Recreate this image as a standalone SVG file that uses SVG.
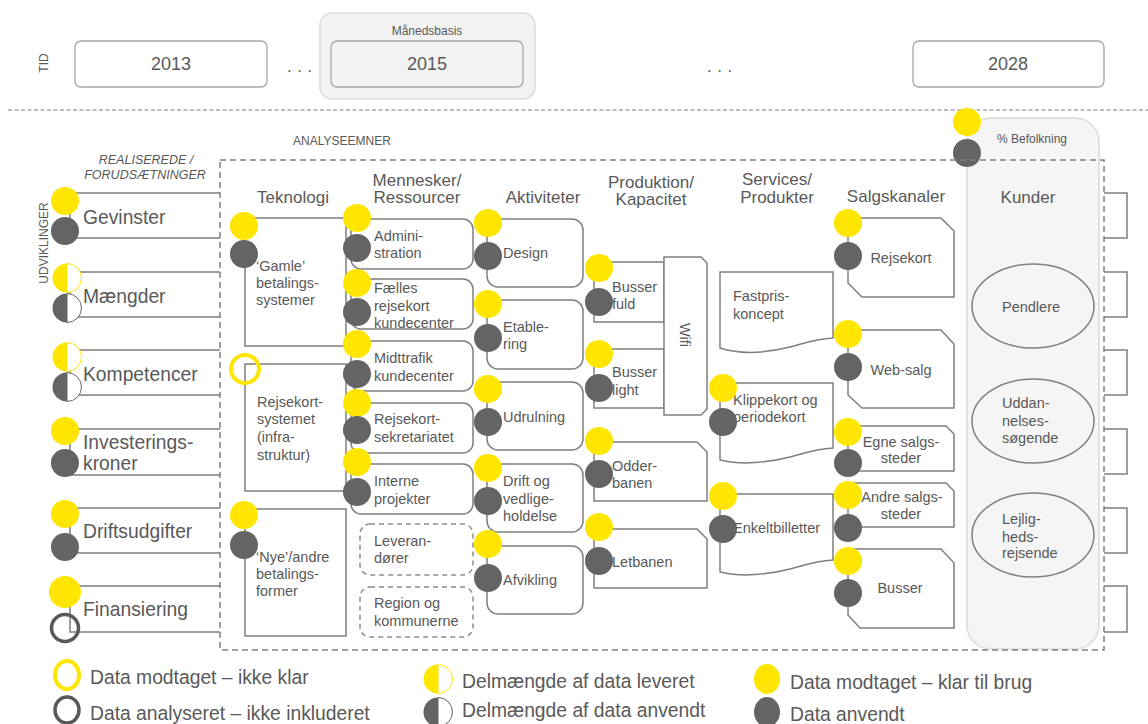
<svg xmlns="http://www.w3.org/2000/svg" width="1148" height="724" viewBox="0 0 1148 724">
<style>
text { font-family: "Liberation Sans", Arial, sans-serif; fill: #595959; }
.ln { fill: none; stroke: #7f7f7f; stroke-width: 1.5; }
.bx { fill: #fff; stroke: #7f7f7f; stroke-width: 1.5; }
.db { fill: #fff; stroke: #8c8c8c; stroke-width: 1.5; stroke-dasharray: 5 4; }
.yrbox { fill: #fff; stroke: #a6a6a6; stroke-width: 1.3; }
.y { fill: #FFE600; }
.d { fill: #646464; }
.yr { fill: none; stroke: #FFE600; stroke-width: 4; }
.dr { fill: none; stroke: #595959; stroke-width: 3.5; }
.f12 { font-size: 12px; }
.f14 { font-size: 14.5px; }
.f17 { font-size: 17px; }
.f18 { font-size: 18px; }
.f19 { font-size: 19.3px; }
.lg { font-size: 19.3px; }
.c { text-anchor: middle; }
</style>
<defs>
  <g id="hy"><path d="M0,-14.5 A14.5,14.5 0 0 0 0,14.5 Z" fill="#FFE600"/><path d="M0,-14.5 A14.5,14.5 0 0 1 0,14.5 Z" fill="#fff" stroke="#FFE600" stroke-width="1"/></g>
  <g id="hd"><path d="M0,-14.5 A14.5,14.5 0 0 0 0,14.5 Z" fill="#646464"/><path d="M0,-14.5 A14.5,14.5 0 0 1 0,14.5 Z" fill="#fff" stroke="#646464" stroke-width="1"/></g>
</defs>

<!-- time row -->
<g id="tid"><text class="f12 c" transform="translate(48,63) rotate(-90)">TID</text></g>
<g id="y2013"><rect class="yrbox" x="75" y="41" width="192" height="46" rx="6"/><text class="f18 c" x="171" y="70">2013</text></g>
<g id="dots1"><text class="f17" x="287" y="72" letter-spacing="5.5">...</text></g>
<g id="maanedsbasis"><rect x="320" y="13" width="215" height="86" rx="12" fill="#f2f2f2" stroke="#dcdcdc" stroke-width="1.5"/><text class="f12 c" x="427" y="35">Månedsbasis</text>
  <g id="y2015"><rect x="331" y="41" width="192" height="46" rx="6" fill="#f2f2f2" stroke="#a6a6a6" stroke-width="1.3"/><text class="f18 c" x="427" y="70">2015</text></g></g>
<g id="dots2"><text class="f17" x="707" y="72" letter-spacing="5.5">...</text></g>
<g id="y2028"><rect class="yrbox" x="913" y="41" width="191" height="46" rx="6"/><text class="f18 c" x="1008" y="70">2028</text></g>
<line x1="8" y1="110" x2="1148" y2="110" stroke="#7f7f7f" stroke-width="1.2" stroke-dasharray="4 2.5"/>

<!-- Kunder panel -->
<g id="kunder"><rect x="967" y="118" width="132" height="531" rx="24" fill="#f5f5f5" stroke="#e2e2e2" stroke-width="2"/>
  <text class="f12 c" x="1032" y="143">% Befolkning</text>
  <text class="f17 c" x="1028" y="203">Kunder</text>
  <circle class="y" cx="967" cy="122" r="14"/><circle class="d" cx="967" cy="153" r="14"/>
</g>

<!-- frame -->
<rect x="220" y="160" width="884" height="490" fill="none" stroke="#808080" stroke-width="1.5" stroke-dasharray="6 4"/>
<text class="f12" x="293" y="145">ANALYSEEMNER</text>
<text class="c" x="146" y="164" font-style="italic" font-size="12.5">REALISEREDE /</text>
<text class="c" x="145" y="179" font-style="italic" font-size="12.5">FORUDSÆTNINGER</text>
<text class="f12 c" transform="translate(47.5,243) rotate(-90)">UDVIKLINGER</text>

<!-- connectors (brackets) -->
<g id="connectors">
  <path class="ln" d="M220,193 H70 V238 H220"/>
  <path class="ln" d="M220,272 H70 V317 H220"/>
  <path class="ln" d="M220,350 H70 V395 H220"/>
  <path class="ln" d="M220,429 H70 V475 H220"/>
  <path class="ln" d="M220,508 H70 V553 H220"/>
  <path class="ln" d="M220,586 H70 V632 H220"/>
  <path class="ln" d="M1104,193 H1127 V238 H1104"/>
  <path class="ln" d="M1104,272 H1127 V317 H1104"/>
  <path class="ln" d="M1104,350 H1127 V395 H1104"/>
  <path class="ln" d="M1104,429 H1127 V474 H1104"/>
  <path class="ln" d="M1104,508 H1127 V553 H1104"/>
  <path class="ln" d="M1104,586 H1127 V632 H1104"/>
</g>

<!-- left nodes -->
<g id="gevinster"><text class="f19" x="83" y="224">Gevinster</text><circle class="y" cx="65" cy="201" r="14"/><circle class="d" cx="65" cy="231" r="14"/></g>
<g id="maengder"><text class="f19" x="83" y="303">Mængder</text><use href="#hy" x="67" y="278"/><use href="#hd" x="67" y="308"/></g>
<g id="kompetencer"><text class="f19" x="83" y="381">Kompetencer</text><use href="#hy" x="67" y="357"/><use href="#hd" x="67" y="387"/></g>
<g id="investeringskroner"><text class="f19" x="83" y="449">Investerings-</text><text class="f19" x="83" y="470">kroner</text><circle class="y" cx="65" cy="431" r="14"/><circle class="d" cx="65" cy="463" r="14"/></g>
<g id="driftsudgifter"><text class="f19" x="83" y="538">Driftsudgifter</text><circle class="y" cx="65" cy="514" r="14"/><circle class="d" cx="65" cy="547" r="14"/></g>
<g id="finansiering"><text class="f19" x="83" y="616">Finansiering</text><circle class="y" cx="65" cy="592" r="16"/><circle class="dr" cx="65" cy="628" r="13.5"/></g>

<!-- headings -->
<g id="headings">
  <text class="f17 c" x="293" y="203">Teknologi</text>
  <text class="f17 c" x="417" y="186">Mennesker/</text><text class="f17 c" x="417" y="203">Ressourcer</text>
  <text class="f17 c" x="543" y="203">Aktiviteter</text>
  <text class="f17 c" x="651" y="188">Produktion/</text><text class="f17 c" x="651" y="205">Kapacitet</text>
  <text class="f17 c" x="777" y="185">Services/</text><text class="f17 c" x="777" y="203">Produkter</text>
  <text class="f17 c" x="896" y="202">Salgskanaler</text>
</g>

<!-- Teknologi -->
<g id="gamle"><rect class="bx" x="245" y="218" width="101" height="128"/><text class="f14" x="256" y="271">‘Gamle’</text><text class="f14" x="256" y="288">betalings-</text><text class="f14" x="256" y="305">systemer</text><circle class="y" cx="244" cy="226" r="14"/><circle class="d" cx="244" cy="254" r="14"/></g>
<g id="rejsekortsystemet"><rect class="bx" x="245" y="364" width="101" height="127"/><text class="f14" x="257" y="407">Rejsekort-</text><text class="f14" x="257" y="424">systemet</text><text class="f14" x="257" y="442">(infra-</text><text class="f14" x="257" y="460">struktur)</text><circle class="yr" cx="245" cy="369" r="14"/></g>
<g id="nye"><rect class="bx" x="245" y="509" width="101" height="127"/><text class="f14" x="256" y="562">‘Nye’/andre</text><text class="f14" x="256" y="579">betalings-</text><text class="f14" x="256" y="596">former</text><circle class="y" cx="244" cy="515" r="14"/><circle class="d" cx="244" cy="545" r="14"/></g>

<!-- Mennesker -->
<g id="administration"><rect class="bx" x="351" y="219" width="122" height="50" rx="10"/><text class="f14" x="374" y="241">Admini-</text><text class="f14" x="374" y="258">stration</text><circle class="y" cx="357" cy="218" r="14"/><circle class="d" cx="357" cy="248" r="14"/></g>
<g id="faelles"><rect class="bx" x="351" y="279" width="122" height="50" rx="10"/><text class="f14" x="374" y="293">Fælles</text><text class="f14" x="374" y="311">rejsekort</text><text class="f14" x="374" y="328">kundecenter</text><circle class="y" cx="357" cy="283" r="14"/><circle class="d" cx="357" cy="312" r="14"/></g>
<g id="midttrafik"><rect class="bx" x="351" y="341" width="122" height="50" rx="10"/><text class="f14" x="374" y="363">Midttrafik</text><text class="f14" x="374" y="381">kundecenter</text><circle class="y" cx="357" cy="344" r="14"/><circle class="d" cx="357" cy="374" r="14"/></g>
<g id="sekretariatet"><rect class="bx" x="351" y="403" width="122" height="50" rx="10"/><text class="f14" x="374" y="424">Rejsekort-</text><text class="f14" x="374" y="442">sekretariatet</text><circle class="y" cx="357" cy="403" r="14"/><circle class="d" cx="357" cy="430" r="14"/></g>
<g id="interne"><rect class="bx" x="351" y="464" width="122" height="50" rx="10"/><text class="f14" x="374" y="486">Interne</text><text class="f14" x="374" y="504">projekter</text><circle class="y" cx="357" cy="462" r="14"/><circle class="d" cx="357" cy="492" r="14"/></g>
<g id="leverandoerer"><rect class="db" x="360" y="524" width="113" height="51" rx="10"/><text class="f14" x="374" y="546">Leveran-</text><text class="f14" x="374" y="563">dører</text></g>
<g id="region"><rect class="db" x="360" y="587" width="113" height="50" rx="10"/><text class="f14" x="374" y="608">Region og</text><text class="f14" x="374" y="626">kommunerne</text></g>

<!-- Aktiviteter -->
<g id="design"><rect class="bx" x="487" y="219" width="96" height="68" rx="11"/><text class="f14" x="503" y="258">Design</text><circle class="y" cx="488" cy="223" r="14"/><circle class="d" cx="488" cy="256" r="14"/></g>
<g id="etablering"><rect class="bx" x="487" y="300" width="96" height="69" rx="11"/><text class="f14" x="503" y="332">Etable-</text><text class="f14" x="503" y="349">ring</text><circle class="y" cx="488" cy="304" r="14"/><circle class="d" cx="488" cy="338" r="14"/></g>
<g id="udrulning"><rect class="bx" x="487" y="382" width="96" height="68" rx="11"/><text class="f14" x="503" y="422">Udrulning</text><circle class="y" cx="488" cy="389" r="14"/><circle class="d" cx="488" cy="422" r="14"/></g>
<g id="drift"><rect class="bx" x="487" y="464" width="96" height="68" rx="11"/><text class="f14" x="503" y="486">Drift og</text><text class="f14" x="503" y="504">vedlige-</text><text class="f14" x="503" y="521">holdelse</text><circle class="y" cx="488" cy="468" r="14"/><circle class="d" cx="488" cy="501" r="14"/></g>
<g id="afvikling"><rect class="bx" x="487" y="546" width="96" height="68" rx="11"/><text class="f14" x="503" y="585">Afvikling</text><circle class="y" cx="488" cy="544" r="14"/><circle class="d" cx="488" cy="578" r="14"/></g>

<!-- Produktion -->
<g id="busserfuld"><rect class="bx" x="594" y="262" width="70" height="60"/><text class="f14" x="612" y="292">Busser</text><text class="f14" x="612" y="309">fuld</text><circle class="y" cx="599" cy="268" r="14"/><circle class="d" cx="599" cy="302" r="14"/></g>
<g id="busserlight"><rect class="bx" x="594" y="349" width="70" height="59"/><text class="f14" x="612" y="377">Busser</text><text class="f14" x="612" y="395">light</text><circle class="y" cx="599" cy="354" r="14"/><circle class="d" cx="599" cy="388" r="14"/></g>
<g id="wifi"><path class="bx" d="M664,257 H701 L707,263 V409 L701,415 H664 Z"/><text class="f14 c" transform="translate(680,335) rotate(90)">Wifi</text></g>
<g id="odderbanen"><path class="bx" d="M594,442 H697 L707,452 V501 H594 Z"/><text class="f14" x="612" y="471">Odder-</text><text class="f14" x="612" y="488">banen</text><circle class="y" cx="599" cy="441" r="14"/><circle class="d" cx="599" cy="474" r="14"/></g>
<g id="letbanen"><path class="bx" d="M594,529 H697 L707,539 V588 H594 Z"/><text class="f14" x="612" y="567">Letbanen</text><circle class="y" cx="599" cy="527" r="14"/><circle class="d" cx="599" cy="561" r="14"/></g>

<!-- Services -->
<g id="fastpris"><path class="bx" d="M720,272 H833 V338 C815,339 805,343 790,347 C770,352 745,356 720,348 Z"/><text class="f14" x="733" y="301">Fastpris-</text><text class="f14" x="733" y="319">koncept</text></g>
<g id="klippekort"><path class="bx" d="M720,383 H833 V448 C815,449 805,453 790,457 C770,462 745,466 720,460 Z"/><text class="f14" x="733" y="405">Klippekort og</text><text class="f14" x="733" y="422">periodekort</text><circle class="y" cx="723" cy="388" r="14"/><circle class="d" cx="723" cy="422" r="14"/></g>
<g id="enkeltbilletter"><path class="bx" d="M720,494 H833 V560 C815,561 805,565 790,569 C770,574 745,578 720,572 Z"/><text class="f14" x="733" y="533">Enkeltbilletter</text><circle class="y" cx="723" cy="496" r="14"/><circle class="d" cx="723" cy="529" r="14"/></g>

<!-- Salgskanaler -->
<g id="rejsekort"><path class="bx" d="M848,218 H941 L954,231 V297 H862 L848,283 Z"/><text class="f14 c" x="901" y="263">Rejsekort</text><circle class="y" cx="848" cy="223" r="14"/><circle class="d" cx="848" cy="256" r="14"/></g>
<g id="websalg"><path class="bx" d="M848,330 H941 L954,344 V408 H862 L848,395 Z"/><text class="f14 c" x="901" y="375">Web-salg</text><circle class="y" cx="848" cy="334" r="14"/><circle class="d" cx="848" cy="367" r="14"/></g>
<g id="egne"><path class="bx" d="M848,426 H946 L954,434 V471 H848 Z"/><text class="f14 c" x="901" y="447">Egne salgs-</text><text class="f14 c" x="901" y="463">steder</text><circle class="y" cx="848" cy="432" r="14"/><circle class="d" cx="848" cy="463" r="14"/></g>
<g id="andre"><path class="bx" d="M848,483 H946 L954,491 V527 H848 Z"/><text class="f14 c" x="902" y="502">Andre salgs-</text><text class="f14 c" x="901" y="519">steder</text><circle class="y" cx="848" cy="495" r="14"/><circle class="d" cx="848" cy="528" r="14"/></g>
<g id="busser"><path class="bx" d="M848,549 H941 L954,563 V628 H860 L848,615 Z"/><text class="f14 c" x="900" y="593">Busser</text><circle class="y" cx="848" cy="561" r="14"/><circle class="d" cx="848" cy="593" r="14"/></g>

<!-- Kunder segments -->
<g id="pendlere"><ellipse cx="1033" cy="306" rx="61" ry="42" fill="none" stroke="#808080" stroke-width="1.5"/><text class="f14" x="1002" y="312">Pendlere</text></g>
<g id="uddannelsessoegende"><ellipse cx="1033" cy="421" rx="61" ry="42" fill="none" stroke="#808080" stroke-width="1.5"/><text class="f14" x="1002" y="408">Uddan-</text><text class="f14" x="1002" y="426">nelses-</text><text class="f14" x="1002" y="443">søgende</text></g>
<g id="lejlighedsrejsende"><ellipse cx="1033" cy="535" rx="61" ry="42" fill="none" stroke="#808080" stroke-width="1.5"/><text class="f14" x="1002" y="524">Lejlig-</text><text class="f14" x="1002" y="542">heds-</text><text class="f14" x="1002" y="558">rejsende</text></g>

<!-- legend -->
<g id="legend">
  <ellipse class="yr" cx="67" cy="675" rx="12" ry="14"/><text class="lg" x="90" y="684">Data modtaget – ikke klar</text>
  <ellipse class="dr" cx="67" cy="710" rx="12" ry="13"/><text class="lg" x="90" y="720">Data analyseret – ikke inkluderet</text>
  <use href="#hy" x="438" y="679"/><text class="lg" x="462" y="688">Delmængde af data leveret</text>
  <use href="#hd" x="438" y="712"/><text class="lg" x="462" y="717">Delmængde af data anvendt</text>
  <ellipse class="y" cx="767" cy="679" rx="13" ry="15"/><text class="lg" x="790" y="689">Data modtaget – klar til brug</text>
  <ellipse class="d" cx="767" cy="712" rx="13" ry="15"/><text class="lg" x="790" y="721">Data anvendt</text>
</g>
</svg>
